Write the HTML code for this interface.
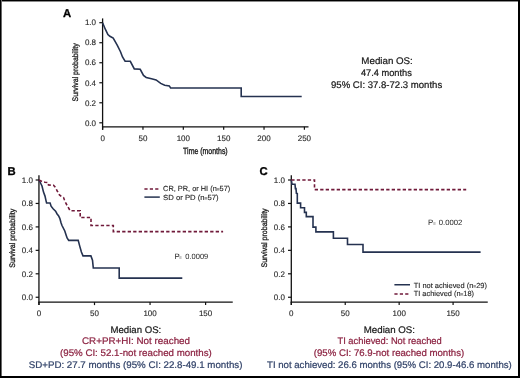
<!DOCTYPE html><html><head><meta charset="utf-8"><style>html,body{margin:0;padding:0;background:#fff;width:520px;height:378px;overflow:hidden}svg{display:block;will-change:transform;font-family:"Liberation Sans",sans-serif}text{text-rendering:geometricPrecision}</style></head><body>
<svg width="520" height="378" viewBox="0 0 520 378">
<rect x="0" y="0" width="520" height="378" fill="#fff"/>
<text x="0" y="0" transform="translate(62.9,16.9) scale(1.0,1)" font-size="11.3" font-weight="bold" fill="#000" stroke="#000" stroke-width="0.3">A</text>
<line x1="102.6" y1="18.4" x2="102.6" y2="129.8" stroke="#111" stroke-width="1.3"/>
<line x1="101.94999999999999" y1="126.8" x2="308.5" y2="126.8" stroke="#111" stroke-width="1.3"/>
<line x1="99.3" y1="122.80" x2="102.6" y2="122.80" stroke="#111" stroke-width="1.2"/>
<text x="96.00" y="125.55" text-anchor="end" font-size="8.0" fill="#262626" textLength="11.12" lengthAdjust="spacingAndGlyphs" stroke="#262626" stroke-width="0.12">0.0</text>
<line x1="99.3" y1="102.78" x2="102.6" y2="102.78" stroke="#111" stroke-width="1.2"/>
<text x="96.00" y="105.53" text-anchor="end" font-size="8.0" fill="#262626" textLength="11.12" lengthAdjust="spacingAndGlyphs" stroke="#262626" stroke-width="0.12">0.2</text>
<line x1="99.3" y1="82.76" x2="102.6" y2="82.76" stroke="#111" stroke-width="1.2"/>
<text x="96.00" y="85.51" text-anchor="end" font-size="8.0" fill="#262626" textLength="11.12" lengthAdjust="spacingAndGlyphs" stroke="#262626" stroke-width="0.12">0.4</text>
<line x1="99.3" y1="62.74" x2="102.6" y2="62.74" stroke="#111" stroke-width="1.2"/>
<text x="96.00" y="65.49" text-anchor="end" font-size="8.0" fill="#262626" textLength="11.12" lengthAdjust="spacingAndGlyphs" stroke="#262626" stroke-width="0.12">0.6</text>
<line x1="99.3" y1="42.72" x2="102.6" y2="42.72" stroke="#111" stroke-width="1.2"/>
<text x="96.00" y="45.47" text-anchor="end" font-size="8.0" fill="#262626" textLength="11.12" lengthAdjust="spacingAndGlyphs" stroke="#262626" stroke-width="0.12">0.8</text>
<line x1="99.3" y1="22.70" x2="102.6" y2="22.70" stroke="#111" stroke-width="1.2"/>
<text x="96.00" y="25.45" text-anchor="end" font-size="8.0" fill="#262626" textLength="11.12" lengthAdjust="spacingAndGlyphs" stroke="#262626" stroke-width="0.12">1.0</text>
<line x1="102.60" y1="126.8" x2="102.60" y2="129.8" stroke="#111" stroke-width="1.2"/>
<text x="102.60" y="140.80" text-anchor="middle" font-size="8.0" fill="#262626" textLength="4.45" lengthAdjust="spacingAndGlyphs" stroke="#262626" stroke-width="0.12">0</text>
<line x1="142.96" y1="126.8" x2="142.96" y2="129.8" stroke="#111" stroke-width="1.2"/>
<text x="142.96" y="140.80" text-anchor="middle" font-size="8.0" fill="#262626" textLength="8.90" lengthAdjust="spacingAndGlyphs" stroke="#262626" stroke-width="0.12">50</text>
<line x1="183.32" y1="126.8" x2="183.32" y2="129.8" stroke="#111" stroke-width="1.2"/>
<text x="183.32" y="140.80" text-anchor="middle" font-size="8.0" fill="#262626" textLength="13.35" lengthAdjust="spacingAndGlyphs" stroke="#262626" stroke-width="0.12">100</text>
<line x1="223.68" y1="126.8" x2="223.68" y2="129.8" stroke="#111" stroke-width="1.2"/>
<text x="223.68" y="140.80" text-anchor="middle" font-size="8.0" fill="#262626" textLength="13.35" lengthAdjust="spacingAndGlyphs" stroke="#262626" stroke-width="0.12">150</text>
<line x1="264.04" y1="126.8" x2="264.04" y2="129.8" stroke="#111" stroke-width="1.2"/>
<text x="264.04" y="140.80" text-anchor="middle" font-size="8.0" fill="#262626" textLength="13.35" lengthAdjust="spacingAndGlyphs" stroke="#262626" stroke-width="0.12">200</text>
<line x1="304.40" y1="126.8" x2="304.40" y2="129.8" stroke="#111" stroke-width="1.2"/>
<text x="304.40" y="140.80" text-anchor="middle" font-size="8.0" fill="#262626" textLength="13.35" lengthAdjust="spacingAndGlyphs" stroke="#262626" stroke-width="0.12">250</text>
<text x="0" y="0" transform="translate(77.9,72.4) rotate(-90)" text-anchor="middle" font-size="8.0" fill="#1a1a1a" stroke="#1a1a1a" stroke-width="0.3" textLength="58" lengthAdjust="spacingAndGlyphs">Survival probability</text>
<text x="205.40" y="154.10" text-anchor="middle" font-size="9.0" fill="#1a1a1a" textLength="44.60" lengthAdjust="spacingAndGlyphs" stroke="#1a1a1a" stroke-width="0.35">Time (months)</text>
<polyline points="102.60,22.80 105.30,29.20 107.90,34.50 109.90,36.30 113.20,38.10 117.20,45.10 120.50,51.70 122.50,57.00 125.10,61.20 130.30,61.30 134.30,68.90 140.20,69.30 143.50,75.50 146.20,77.50 151.50,78.80 156.10,79.90 160.70,83.40 164.70,85.20 169.30,85.90 170.60,88.00 241.20,88.00 241.20,96.50 301.70,96.50" fill="none" stroke="#253250" stroke-width="1.6" stroke-linejoin="miter"/>
<text x="387.10" y="63.90" text-anchor="middle" font-size="9.6" fill="#1a1a1a" textLength="51.50" lengthAdjust="spacingAndGlyphs" stroke="#1a1a1a" stroke-width="0.22">Median OS:</text>
<text x="386.40" y="75.70" text-anchor="middle" font-size="9.6" fill="#1a1a1a" textLength="51.00" lengthAdjust="spacingAndGlyphs" stroke="#1a1a1a" stroke-width="0.22">47.4 months</text>
<text x="386.60" y="87.60" text-anchor="middle" font-size="9.6" fill="#1a1a1a" textLength="111.20" lengthAdjust="spacingAndGlyphs" stroke="#1a1a1a" stroke-width="0.22">95% CI: 37.8-72.3 months</text>
<text x="0" y="0" transform="translate(7.6,174.5) scale(1.0,1)" font-size="11.3" font-weight="bold" fill="#000" stroke="#000" stroke-width="0.3">B</text>
<line x1="38.95" y1="175.3" x2="38.95" y2="305.1" stroke="#111" stroke-width="1.3"/>
<line x1="38.300000000000004" y1="302.1" x2="232.75" y2="302.1" stroke="#111" stroke-width="1.3"/>
<line x1="35.650000000000006" y1="297.25" x2="38.95" y2="297.25" stroke="#111" stroke-width="1.2"/>
<text x="32.90" y="300.00" text-anchor="end" font-size="8.0" fill="#262626" textLength="11.12" lengthAdjust="spacingAndGlyphs" stroke="#262626" stroke-width="0.12">0.0</text>
<line x1="35.650000000000006" y1="273.80" x2="38.95" y2="273.80" stroke="#111" stroke-width="1.2"/>
<text x="32.90" y="276.55" text-anchor="end" font-size="8.0" fill="#262626" textLength="11.12" lengthAdjust="spacingAndGlyphs" stroke="#262626" stroke-width="0.12">0.2</text>
<line x1="35.650000000000006" y1="250.35" x2="38.95" y2="250.35" stroke="#111" stroke-width="1.2"/>
<text x="32.90" y="253.10" text-anchor="end" font-size="8.0" fill="#262626" textLength="11.12" lengthAdjust="spacingAndGlyphs" stroke="#262626" stroke-width="0.12">0.4</text>
<line x1="35.650000000000006" y1="226.90" x2="38.95" y2="226.90" stroke="#111" stroke-width="1.2"/>
<text x="32.90" y="229.65" text-anchor="end" font-size="8.0" fill="#262626" textLength="11.12" lengthAdjust="spacingAndGlyphs" stroke="#262626" stroke-width="0.12">0.6</text>
<line x1="35.650000000000006" y1="203.45" x2="38.95" y2="203.45" stroke="#111" stroke-width="1.2"/>
<text x="32.90" y="206.20" text-anchor="end" font-size="8.0" fill="#262626" textLength="11.12" lengthAdjust="spacingAndGlyphs" stroke="#262626" stroke-width="0.12">0.8</text>
<line x1="35.650000000000006" y1="180.00" x2="38.95" y2="180.00" stroke="#111" stroke-width="1.2"/>
<text x="32.90" y="182.75" text-anchor="end" font-size="8.0" fill="#262626" textLength="11.12" lengthAdjust="spacingAndGlyphs" stroke="#262626" stroke-width="0.12">1.0</text>
<line x1="38.95" y1="302.1" x2="38.95" y2="305.1" stroke="#111" stroke-width="1.2"/>
<text x="38.95" y="315.50" text-anchor="middle" font-size="8.0" fill="#262626" textLength="4.45" lengthAdjust="spacingAndGlyphs" stroke="#262626" stroke-width="0.12">0</text>
<line x1="94.50" y1="302.1" x2="94.50" y2="305.1" stroke="#111" stroke-width="1.2"/>
<text x="94.50" y="315.50" text-anchor="middle" font-size="8.0" fill="#262626" textLength="8.90" lengthAdjust="spacingAndGlyphs" stroke="#262626" stroke-width="0.12">50</text>
<line x1="150.05" y1="302.1" x2="150.05" y2="305.1" stroke="#111" stroke-width="1.2"/>
<text x="150.05" y="315.50" text-anchor="middle" font-size="8.0" fill="#262626" textLength="13.35" lengthAdjust="spacingAndGlyphs" stroke="#262626" stroke-width="0.12">100</text>
<line x1="205.60" y1="302.1" x2="205.60" y2="305.1" stroke="#111" stroke-width="1.2"/>
<text x="205.60" y="315.50" text-anchor="middle" font-size="8.0" fill="#262626" textLength="13.35" lengthAdjust="spacingAndGlyphs" stroke="#262626" stroke-width="0.12">150</text>
<text x="0" y="0" transform="translate(14.6,238.2) rotate(-90)" text-anchor="middle" font-size="8.0" fill="#1a1a1a" stroke="#1a1a1a" stroke-width="0.3" textLength="59" lengthAdjust="spacingAndGlyphs">Survival probability</text>
<polyline points="39.00,180.00 42.00,186.00 43.50,192.10 45.00,196.10 46.00,200.60 46.60,203.00 50.10,203.00 51.10,206.20 53.10,208.70 55.60,211.20 57.10,214.00 58.50,215.70 59.80,218.30 61.10,223.00 62.00,225.50 64.80,231.00 66.00,234.70 67.10,238.00 68.70,240.40 78.20,240.40 79.80,246.40 81.40,252.00 83.00,255.90 90.90,255.90 92.50,260.20 93.30,268.00 119.20,268.00 119.20,278.10 182.30,278.10" fill="none" stroke="#253250" stroke-width="1.6" stroke-linejoin="miter"/>
<polyline points="39.00,180.00 42.00,181.50 45.00,182.20 48.00,182.50 48.50,185.00 53.50,185.20 55.50,187.50 57.50,191.50 59.50,195.00 61.50,196.50 63.50,197.50 64.50,200.00 66.00,203.50 68.00,207.00 70.20,210.80 80.20,210.80 80.20,217.50 91.00,217.50 91.00,225.50 113.30,225.50 113.30,231.60 223.10,231.60" fill="none" stroke="#701a3a" stroke-width="1.6" stroke-linejoin="miter" stroke-dasharray="3.3 2.2"/>
<line x1="144.4" y1="189" x2="159.6" y2="189" stroke="#701a3a" stroke-width="1.5" stroke-dasharray="3.2 2.2"/>
<line x1="144.4" y1="197.1" x2="159.8" y2="197.1" stroke="#253250" stroke-width="1.5"/>
<text x="163.1" y="190.7" font-size="7.38" fill="#262626" stroke="#262626" stroke-width="0.12">CR, PR, or HI (n<tspan font-size="4.8" dy="-0.1">=</tspan><tspan dy="0.1">57)</tspan></text>
<text x="163.1" y="199.7" textLength="55.6" lengthAdjust="spacingAndGlyphs" font-size="7.38" fill="#262626" stroke="#262626" stroke-width="0.12">SD or PD (n<tspan font-size="4.8" dy="-0.1">=</tspan><tspan dy="0.1">57)</tspan></text>
<text x="174.60" y="259.00" font-size="7.8" fill="#262626">P</text>
<text x="179.00" y="258.90" font-size="4.8" fill="#262626">=</text>
<text x="185.30" y="259.00" font-size="7.7" fill="#262626" textLength="23.00" lengthAdjust="spacingAndGlyphs">0.0009</text>
<text x="135.90" y="332.60" text-anchor="middle" font-size="9.6" fill="#1a1a1a" textLength="50.75" lengthAdjust="spacingAndGlyphs" stroke="#1a1a1a" stroke-width="0.22">Median OS:</text>
<text x="136.00" y="344.40" text-anchor="middle" font-size="9.6" fill="#8c2342" textLength="108.00" lengthAdjust="spacingAndGlyphs" stroke="#8c2342" stroke-width="0.22">CR+PR+HI: Not reached</text>
<text x="135.90" y="356.20" text-anchor="middle" font-size="9.6" fill="#8c2342" textLength="151.75" lengthAdjust="spacingAndGlyphs" stroke="#8c2342" stroke-width="0.22">(95% CI: 52.1-not reached months)</text>
<text x="135.60" y="368.10" text-anchor="middle" font-size="9.6" fill="#33446a" textLength="213.75" lengthAdjust="spacingAndGlyphs" stroke="#33446a" stroke-width="0.22">SD+PD: 27.7 months (95% CI: 22.8-49.1 months)</text>
<text x="0" y="0" transform="translate(259.5,174.6) scale(1.0,1)" font-size="11.3" font-weight="bold" fill="#000" stroke="#000" stroke-width="0.3">C</text>
<line x1="291.3" y1="175.3" x2="291.3" y2="305.1" stroke="#111" stroke-width="1.3"/>
<line x1="290.65000000000003" y1="302.1" x2="487.75" y2="302.1" stroke="#111" stroke-width="1.3"/>
<line x1="288.0" y1="297.25" x2="291.3" y2="297.25" stroke="#111" stroke-width="1.2"/>
<text x="284.90" y="300.00" text-anchor="end" font-size="8.0" fill="#262626" textLength="11.12" lengthAdjust="spacingAndGlyphs" stroke="#262626" stroke-width="0.12">0.0</text>
<line x1="288.0" y1="273.80" x2="291.3" y2="273.80" stroke="#111" stroke-width="1.2"/>
<text x="284.90" y="276.55" text-anchor="end" font-size="8.0" fill="#262626" textLength="11.12" lengthAdjust="spacingAndGlyphs" stroke="#262626" stroke-width="0.12">0.2</text>
<line x1="288.0" y1="250.35" x2="291.3" y2="250.35" stroke="#111" stroke-width="1.2"/>
<text x="284.90" y="253.10" text-anchor="end" font-size="8.0" fill="#262626" textLength="11.12" lengthAdjust="spacingAndGlyphs" stroke="#262626" stroke-width="0.12">0.4</text>
<line x1="288.0" y1="226.90" x2="291.3" y2="226.90" stroke="#111" stroke-width="1.2"/>
<text x="284.90" y="229.65" text-anchor="end" font-size="8.0" fill="#262626" textLength="11.12" lengthAdjust="spacingAndGlyphs" stroke="#262626" stroke-width="0.12">0.6</text>
<line x1="288.0" y1="203.45" x2="291.3" y2="203.45" stroke="#111" stroke-width="1.2"/>
<text x="284.90" y="206.20" text-anchor="end" font-size="8.0" fill="#262626" textLength="11.12" lengthAdjust="spacingAndGlyphs" stroke="#262626" stroke-width="0.12">0.8</text>
<line x1="288.0" y1="180.00" x2="291.3" y2="180.00" stroke="#111" stroke-width="1.2"/>
<text x="284.90" y="182.75" text-anchor="end" font-size="8.0" fill="#262626" textLength="11.12" lengthAdjust="spacingAndGlyphs" stroke="#262626" stroke-width="0.12">1.0</text>
<line x1="291.30" y1="302.1" x2="291.30" y2="305.1" stroke="#111" stroke-width="1.2"/>
<text x="291.30" y="315.50" text-anchor="middle" font-size="8.0" fill="#262626" textLength="4.45" lengthAdjust="spacingAndGlyphs" stroke="#262626" stroke-width="0.12">0</text>
<line x1="345.23" y1="302.1" x2="345.23" y2="305.1" stroke="#111" stroke-width="1.2"/>
<text x="345.23" y="315.50" text-anchor="middle" font-size="8.0" fill="#262626" textLength="8.90" lengthAdjust="spacingAndGlyphs" stroke="#262626" stroke-width="0.12">50</text>
<line x1="399.16" y1="302.1" x2="399.16" y2="305.1" stroke="#111" stroke-width="1.2"/>
<text x="399.16" y="315.50" text-anchor="middle" font-size="8.0" fill="#262626" textLength="13.35" lengthAdjust="spacingAndGlyphs" stroke="#262626" stroke-width="0.12">100</text>
<line x1="453.09" y1="302.1" x2="453.09" y2="305.1" stroke="#111" stroke-width="1.2"/>
<text x="453.09" y="315.50" text-anchor="middle" font-size="8.0" fill="#262626" textLength="13.35" lengthAdjust="spacingAndGlyphs" stroke="#262626" stroke-width="0.12">150</text>
<text x="0" y="0" transform="translate(266.6,237.9) rotate(-90)" text-anchor="middle" font-size="8.0" fill="#1a1a1a" stroke="#1a1a1a" stroke-width="0.3" textLength="59" lengthAdjust="spacingAndGlyphs">Survival probability</text>
<polyline points="291.30,180.00 292.00,184.20 295.00,184.20 295.40,188.60 296.00,188.60 296.40,193.40 297.30,193.60 297.30,203.10 300.60,203.10 300.60,207.70 304.50,207.70 304.50,212.40 306.30,212.40 306.30,216.60 313.00,216.60 313.00,227.10 315.90,227.10 315.90,231.90 333.40,231.90 333.40,238.20 347.50,238.20 347.50,244.50 363.00,244.50 363.00,252.10 480.60,252.10" fill="none" stroke="#253250" stroke-width="1.6" stroke-linejoin="miter"/>
<polyline points="291.30,180.00 314.50,180.00 314.50,189.60 466.20,189.60" fill="none" stroke="#701a3a" stroke-width="1.6" stroke-linejoin="miter" stroke-dasharray="3.3 2.2"/>
<line x1="394.4" y1="284.75" x2="410" y2="284.75" stroke="#253250" stroke-width="1.5"/>
<line x1="394.4" y1="294" x2="410" y2="294" stroke="#701a3a" stroke-width="1.5" stroke-dasharray="3.2 2.2"/>
<text x="413.75" y="287.6" textLength="73.2" lengthAdjust="spacingAndGlyphs" font-size="7.38" fill="#262626" stroke="#262626" stroke-width="0.12">TI not achieved (n<tspan font-size="4.8" dy="-0.1">=</tspan><tspan dy="0.1">29)</tspan></text>
<text x="413.75" y="296.3" font-size="7.38" fill="#262626" stroke="#262626" stroke-width="0.12">TI achieved (n<tspan font-size="4.8" dy="-0.1">=</tspan><tspan dy="0.1">18)</tspan></text>
<text x="427.90" y="224.90" font-size="7.8" fill="#262626">P</text>
<text x="432.90" y="224.80" font-size="4.8" fill="#262626">=</text>
<text x="438.80" y="224.90" font-size="7.7" fill="#262626" textLength="23.60" lengthAdjust="spacingAndGlyphs">0.0002</text>
<text x="389.40" y="332.60" text-anchor="middle" font-size="9.6" fill="#1a1a1a" textLength="51.25" lengthAdjust="spacingAndGlyphs" stroke="#1a1a1a" stroke-width="0.22">Median OS:</text>
<text x="389.60" y="344.40" text-anchor="middle" font-size="9.6" fill="#8c2342" textLength="104.25" lengthAdjust="spacingAndGlyphs" stroke="#8c2342" stroke-width="0.22">TI achieved: Not reached</text>
<text x="389.00" y="356.20" text-anchor="middle" font-size="9.6" fill="#8c2342" textLength="150.50" lengthAdjust="spacingAndGlyphs" stroke="#8c2342" stroke-width="0.22">(95% CI: 76.9-not reached months)</text>
<text x="389.40" y="368.10" text-anchor="middle" font-size="9.6" fill="#33446a" textLength="244.75" lengthAdjust="spacingAndGlyphs" stroke="#33446a" stroke-width="0.22">TI not achieved: 26.6 months (95% CI: 20.9-46.6 months)</text>
<rect x="0" y="0" width="520" height="1" fill="#000"/>
<rect x="0" y="1" width="520" height="1" fill="#8a8a8a"/>
<rect x="0" y="0" width="1" height="378" fill="#000"/>
<rect x="1" y="0" width="1" height="378" fill="#6a6a6a"/>
<rect x="518" y="0" width="2" height="378" fill="#000"/>
<rect x="0" y="376" width="520" height="2" fill="#000"/>
</svg></body></html>
